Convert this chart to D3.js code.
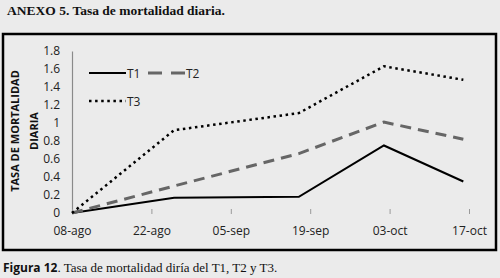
<!DOCTYPE html>
<html>
<head>
<meta charset="utf-8">
<script src="https://cdn.jsdelivr.net/npm/d3@7"></script>
<style>
  body { margin: 0; background: #ebebeb; }
  svg { display: block; }
</style>
</head>
<body>
<div id="chart"></div>
<script>
// dates of the samples (day-month of one season)
const sampleDates = ["2015-08-08", "2015-08-26", "2015-09-17", "2015-10-02", "2015-10-16"];
const t1 = [0, 0.17, 0.18, 0.75, 0.35];
const t2 = [0, 0.30, 0.66, 1.01, 0.82];
const t3 = [0, 0.92, 1.11, 1.63, 1.48];

const tickDates = ["2015-08-08", "2015-08-22", "2015-09-05", "2015-09-19", "2015-10-03", "2015-10-17"];
const tickLabels = ["08-ago", "22-ago", "05-sep", "19-sep", "03-oct", "17-oct"];
const yTicks = [0, 0.2, 0.4, 0.6, 0.8, 1, 1.2, 1.4, 1.6, 1.8];

const seriesNames = ["T1", "T2", "T3"];

const W = 500, H = 278;
const parse = d3.timeParse("%Y-%m-%d");

const svg = d3.select("#chart").append("svg")
    .attr("width", W)
    .attr("height", H);

svg.append("rect")
    .attr("width", W).attr("height", H)
    .attr("fill", "#ebebeb");

// heading above the box
svg.append("text")
    .attr("x", 7).attr("y", 15)
    .style("font", "bold 13.5px 'Liberation Serif'")
    .attr("fill", "#111")
    .text("ANEXO 5. Tasa de mortalidad diaria.");

// chart box
svg.append("rect")
    .attr("x", 3).attr("y", 34)
    .attr("width", 493).attr("height", 216)
    .attr("fill", "#ebebeb")
    .attr("stroke", "#000")
    .attr("stroke-width", 2.5);

const x = d3.scaleTime()
    .domain([parse(tickDates[0]), parse(tickDates[tickDates.length - 1])])
    .range([72, 469]);

const y = d3.scaleLinear()
    .domain([0, 1.8])
    .range([213, 51]);

// y axis
const yAxis = svg.append("g")
    .attr("transform", "translate(72,0)")
    .call(d3.axisLeft(y).tickValues(yTicks).tickSize(0).tickPadding(12)
      .tickFormat(d => +d.toFixed(1)));
yAxis.select(".domain").attr("stroke", "#8a8a8a").attr("stroke-width", 1.2);
yAxis.selectAll("text")
    .style("font", "12px 'Open Sans'")
    .attr("fill", "#222");

// x axis (ticks only, no line)
const xAxis = svg.append("g")
    .attr("transform", "translate(0,213)")
    .call(d3.axisBottom(x).tickValues(tickDates.map(parse)).tickSize(0).tickPadding(13)
      .tickFormat((d, i) => tickLabels[i]));
xAxis.select(".domain").remove();
xAxis.selectAll("text")
    .style("font", "12px 'Open Sans'")
    .attr("fill", "#222");
xAxis.selectAll(".tick").append("line")
    .attr("y1", -4).attr("y2", 1)
    .attr("stroke", "#9a9a9a");

// y axis title
const yTitle = svg.append("text")
    .attr("transform", "translate(19,131) rotate(-90)")
    .attr("text-anchor", "middle")
    .style("font", "bold 11px 'Open Sans'")
    .attr("fill", "#111");
yTitle.append("tspan").attr("x", 0).attr("dy", 0).text("TASA DE MORTALIDAD");
yTitle.append("tspan").attr("x", 0).attr("dy", 19).text("DIARIA");

const styles = [
  { stroke: "#000", width: 2, dash: null, legendDash: null },
  { stroke: "#666", width: 3, dash: "11,7", legendDash: "14,9" },
  { stroke: "#000", width: 2.5, dash: "2.5,3.6", legendDash: "2.5,3.6" }
];

const line = d3.line()
    .x((d, i) => x(parse(sampleDates[i])))
    .y(d => y(d));

[t1, t2, t3].forEach((vals, k) => {
  svg.append("path")
      .datum(vals)
      .attr("d", line)
      .attr("fill", "none")
      .attr("stroke", styles[k].stroke)
      .attr("stroke-width", styles[k].width)
      .attr("stroke-dasharray", styles[k].dash)
      .attr("stroke-linejoin", "miter");
});

// legend
const legendPos = [[89, 73], [148, 73], [89, 101]];
seriesNames.forEach((name, k) => {
  const [lx, ly] = legendPos[k];
  svg.append("line")
      .attr("x1", lx).attr("x2", lx + 37)
      .attr("y1", ly).attr("y2", ly)
      .attr("stroke", styles[k].stroke)
      .attr("stroke-width", styles[k].width)
      .attr("stroke-dasharray", styles[k].legendDash);
  svg.append("text")
      .attr("x", lx + 38).attr("y", ly + 4.5)
      .style("font", "12px 'Open Sans'")
      .attr("fill", "#222")
      .text(name);
});

// caption below the box
const cap = svg.append("text")
    .attr("x", 3).attr("y", 272)
    .attr("fill", "#111");
cap.append("tspan")
    .style("font", "bold 12px 'Open Sans'")
    .text("Figura 12");
cap.append("tspan")
    .style("font", "13px 'Liberation Serif'")
    .text(". Tasa de mortalidad diría del T1, T2 y T3.");
</script>
</body>
</html>
